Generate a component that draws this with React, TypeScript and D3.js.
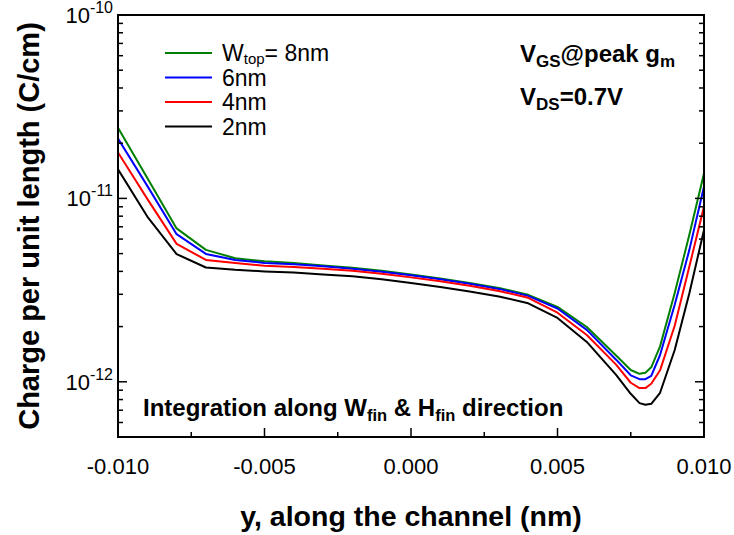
import React from 'react';
import * as d3 from 'd3';

// Position along the channel
const yPos = [
  -0.01, -0.009, -0.008, -0.007, -0.006, -0.005, -0.004, -0.003, -0.002, -0.001,
  0, 0.001, 0.002, 0.003, 0.004, 0.005, 0.006, 0.007, 0.0075, 0.0078, 0.008,
  0.0082, 0.0085, 0.009, 0.0095, 0.01,
];

// Charge per unit length (C/cm) for each top-width
const qTop8 = [
  2.43e-11, 1.29e-11, 6.86e-12, 5.24e-12, 4.72e-12, 4.54e-12, 4.45e-12, 4.31e-12, 4.18e-12, 4.03e-12,
  3.85e-12, 3.66e-12, 3.46e-12, 3.25e-12, 2.98e-12, 2.56e-12, 1.99e-12, 1.39e-12, 1.16e-12, 1.105e-12,
  1.12e-12, 1.2e-12, 1.56e-12, 3.05e-12, 6.33e-12, 1.37e-11,
];
const qTop6 = [
  2.12e-11, 1.17e-11, 6.38e-12, 4.98e-12, 4.62e-12, 4.45e-12, 4.37e-12, 4.26e-12, 4.13e-12, 3.98e-12,
  3.81e-12, 3.62e-12, 3.42e-12, 3.21e-12, 2.94e-12, 2.51e-12, 1.92e-12, 1.32e-12, 1.085e-12, 1.034e-12,
  1.034e-12, 1.078e-12, 1.4e-12, 2.63e-12, 5.24e-12, 1.16e-11,
];
const qTop4 = [
  1.78e-11, 9.94e-12, 5.65e-12, 4.62e-12, 4.44e-12, 4.29e-12, 4.23e-12, 4.13e-12, 4.03e-12, 3.88e-12,
  3.71e-12, 3.53e-12, 3.34e-12, 3.13e-12, 2.87e-12, 2.38e-12, 1.8e-12, 1.24e-12, 9.88e-13, 9.24e-13,
  9.24e-13, 9.75e-13, 1.155e-12, 2.02e-12, 4.25e-12, 9.02e-12,
];
const qTop2 = [
  1.44e-11, 7.96e-12, 4.97e-12, 4.2e-12, 4.08e-12, 4.0e-12, 3.95e-12, 3.85e-12, 3.76e-12, 3.62e-12,
  3.46e-12, 3.29e-12, 3.11e-12, 2.92e-12, 2.68e-12, 2.23e-12, 1.65e-12, 1.09e-12, 8.6e-13, 7.65e-13,
  7.49e-13, 7.59e-13, 8.71e-13, 1.49e-12, 3.04e-12, 6.73e-12,
];

const seriesLabels = ['8nm', '6nm', '4nm', '2nm'];
const seriesColors = ['#008000', '#0000ff', '#ff0000', '#000000'];
const seriesValues = [qTop8, qTop6, qTop4, qTop2];

const xTicks = [-0.01, -0.005, 0, 0.005, 0.01];
const xMinorTicks = [-0.0075, -0.0025, 0.0025, 0.0075];
const xTickLabels = ['-0.010', '-0.005', '0.000', '0.005', '0.010'];
const yDecades = [1e-10, 1e-11, 1e-12];
const yDecadeExps = ['-10', '-11', '-12'];

const W = 734;
const H = 535;
const L = 118;
const R = 704;
const T = 15;
const B = 437;
const FONT = '"Liberation Sans", Arial, Helvetica, sans-serif';

export default function App() {
  const x = d3.scaleLinear().domain([-0.01, 0.01]).range([L, R]);
  const y = d3.scaleLog().domain([5e-13, 1e-10]).range([B, T]);

  const yMinor: number[] = [];
  [1e-13, 1e-12, 1e-11].forEach((d) => {
    for (let m = 2; m <= 9; m++) {
      const v = m * d;
      if (v >= 5e-13 && v < 1e-10) yMinor.push(v);
    }
  });

  const line = d3
    .line<number>()
    .x((_, i) => x(yPos[i]))
    .y((d) => y(d));

  const majorLen = 9;
  const minorLen = 5;

  return (
    <svg
      width={W}
      height={H}
      style={{ position: 'absolute', left: 0, top: 0, background: '#fff' }}
      fontFamily={FONT}
    >
      <defs>
        <clipPath id="plot-clip">
          <rect x={L} y={T} width={R - L} height={B - T} />
        </clipPath>
      </defs>

      {/* data curves */}
      <g clipPath="url(#plot-clip)">
        {seriesValues.map((vals, i) => (
          <path
            key={seriesLabels[i]}
            d={line(vals) || ''}
            fill="none"
            stroke={seriesColors[i]}
            strokeWidth={2}
            strokeLinejoin="round"
          />
        ))}
      </g>

      {/* frame */}
      <rect x={L} y={T} width={R - L} height={B - T} fill="none" stroke="#000" strokeWidth={2} />

      {/* x ticks (inward from the bottom) */}
      {xTicks.map((t) => (
        <line key={'xt' + t} x1={x(t)} x2={x(t)} y1={B} y2={B - majorLen} stroke="#000" strokeWidth={1.5} />
      ))}
      {xMinorTicks.map((t) => (
        <line key={'xm' + t} x1={x(t)} x2={x(t)} y1={B} y2={B - minorLen} stroke="#000" strokeWidth={1.5} />
      ))}
      {xTicks.map((t, i) => (
        <text key={'xl' + t} x={x(t)} y={474} fontSize={22} textAnchor="middle" fill="#000">
          {xTickLabels[i]}
        </text>
      ))}

      {/* y ticks on left and right */}
      {yDecades.map((t) => (
        <g key={'yt' + t}>
          <line x1={L} x2={L + majorLen} y1={y(t)} y2={y(t)} stroke="#000" strokeWidth={1.5} />
          <line x1={R} x2={R - majorLen} y1={y(t)} y2={y(t)} stroke="#000" strokeWidth={1.5} />
        </g>
      ))}
      {yMinor.map((t) => (
        <g key={'ym' + t}>
          <line x1={L} x2={L + minorLen} y1={y(t)} y2={y(t)} stroke="#000" strokeWidth={1.5} />
          <line x1={R} x2={R - minorLen} y1={y(t)} y2={y(t)} stroke="#000" strokeWidth={1.5} />
        </g>
      ))}
      {yDecades.map((t, i) => (
        <text key={'yl' + t} x={113} y={y(t) + 8} fontSize={22} textAnchor="end" fill="#000">
          10
          <tspan fontSize={16} dy={-10}>
            {yDecadeExps[i]}
          </tspan>
        </text>
      ))}

      {/* axis titles */}
      <text x={411} y={526} fontSize={28.5} fontWeight="bold" textAnchor="middle" fill="#000">
        y, along the channel (nm)
      </text>
      <text
        transform={`translate(39, ${(T + B) / 2}) rotate(-90)`}
        fontSize={29}
        fontWeight="bold"
        textAnchor="middle"
        fill="#000"
      >
        Charge per unit length (C/cm)
      </text>

      {/* legend */}
      {seriesLabels.map((lab, i) => {
        const ly = 53 + i * 24.5;
        return (
          <g key={'lg' + lab}>
            <line x1={165} x2={212} y1={ly} y2={ly} stroke={seriesColors[i]} strokeWidth={2} />
            {i === 0 ? (
              <text x={222} y={ly + 8} fontSize={23} fill="#000">
                W
                <tspan fontSize={15} dy={3}>
                  top
                </tspan>
                <tspan dy={-3}>= {lab}</tspan>
              </text>
            ) : (
              <text x={222} y={ly + 8} fontSize={23} fill="#000">
                {lab}
              </text>
            )}
          </g>
        );
      })}

      {/* bias annotations */}
      <text x={520} y={62} fontSize={24} fontWeight="bold" fill="#000">
        V
        <tspan fontSize={17} dy={5}>
          GS
        </tspan>
        <tspan dy={-5}>@peak g</tspan>
        <tspan fontSize={17} dy={5}>
          m
        </tspan>
      </text>
      <text x={520} y={105} fontSize={24} fontWeight="bold" fill="#000">
        V
        <tspan fontSize={17} dy={5}>
          DS
        </tspan>
        <tspan dy={-5}>=0.7V</tspan>
      </text>

      <text x={143} y={416} fontSize={24} fontWeight="bold" fill="#000">
        Integration along W
        <tspan fontSize={16.5} dy={5}>
          fin
        </tspan>
        <tspan dy={-5}> &amp; H</tspan>
        <tspan fontSize={16.5} dy={5}>
          fin
        </tspan>
        <tspan dy={-5}> direction</tspan>
      </text>
    </svg>
  );
}
